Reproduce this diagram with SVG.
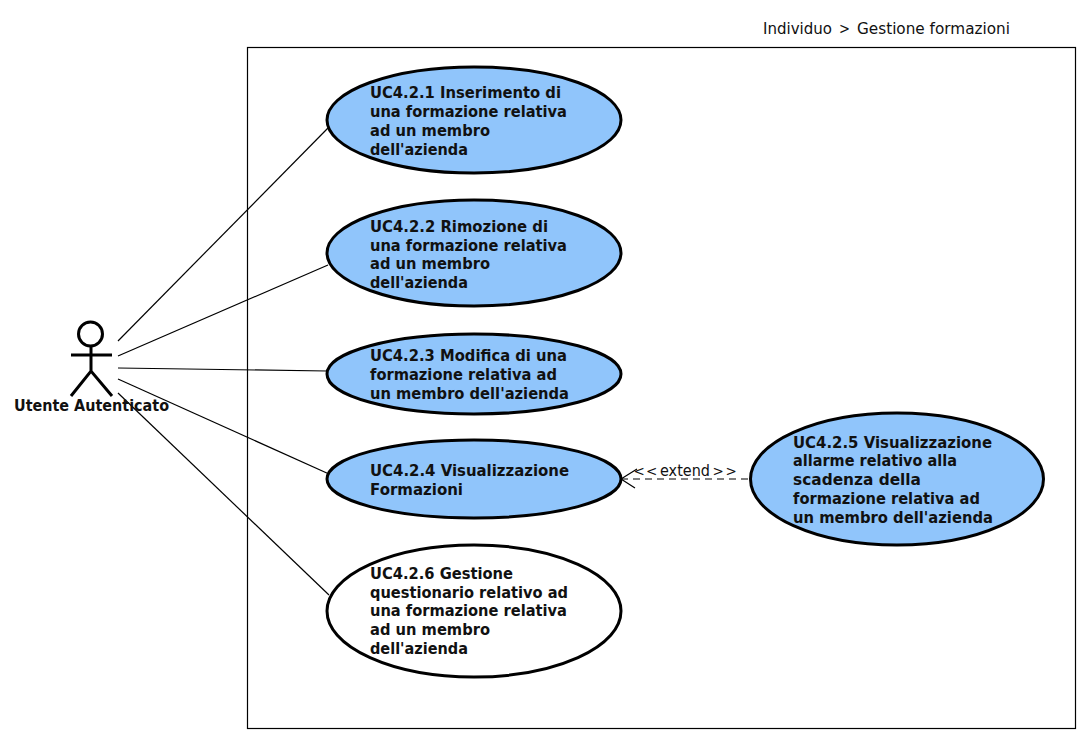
<svg xmlns="http://www.w3.org/2000/svg" width="1089" height="741" viewBox="0 0 1089 741">
<style>
text{font-family:"DejaVu Sans","Liberation Sans",sans-serif;fill:#111}
.t{font-weight:bold;font-size:15.5px}
.r{font-size:15.5px}
.u{fill:#90c5fb;stroke:#000;stroke-width:3}
.w{fill:#fff;stroke:#000;stroke-width:3}
.c{stroke:#000;stroke-width:1.2;fill:none}
.a{stroke:#000;stroke-width:3;fill:none}
.b{font-size:13.500px}
</style>
<rect width="1089" height="741" fill="#fff"/>
<rect id="boundary" x="247.500" y="47.500" width="828" height="681" fill="#fff" stroke="#000" stroke-width="1.200"/>
<text id="title" class="r" y="34"><tspan x="763" textLength="69" lengthAdjust="spacingAndGlyphs">Individuo</tspan> <tspan x="839" textLength="11" lengthAdjust="spacingAndGlyphs">&gt;</tspan> <tspan x="857" textLength="153" lengthAdjust="spacingAndGlyphs">Gestione formazioni</tspan></text>
<g id="connectors">
<line class="c" x1="118" y1="341" x2="328" y2="128"/>
<line class="c" x1="118" y1="356" x2="328" y2="265"/>
<line class="c" x1="118" y1="368" x2="327" y2="371"/>
<line class="c" x1="118" y1="379" x2="329" y2="474"/>
<line class="c" x1="118" y1="393" x2="329" y2="595"/>
<line class="c" x1="621" y1="479" x2="750" y2="479" stroke-dasharray="7 5"/>
<path class="c" d="M637 469 L621 479 L635 488"/>
<text class="r" y="476"><tspan class="b" x="633.500 646" y="475.500">&lt;&lt;</tspan><tspan x="660" y="476" textLength="50" lengthAdjust="spacingAndGlyphs">extend</tspan><tspan class="b" x="712.500 725.500" y="475.500">&gt;&gt;</tspan></text>
</g>
<g id="actor">
<circle class="a" cx="90.500" cy="334" r="12"/>
<path class="a" d="M91 346V371M71 355H112M71 396L91 371L112 396"/>
<text class="t" x="14" y="411" textLength="155" lengthAdjust="spacingAndGlyphs">Utente Autenticato</text>
</g>
<g id="uc421">
<ellipse class="u" cx="474" cy="120" rx="147" ry="53"/>
<text class="t" x="370" y="98" textLength="191" lengthAdjust="spacingAndGlyphs">UC4.2.1 Inserimento di</text>
<text class="t" x="370" y="117" textLength="197" lengthAdjust="spacingAndGlyphs">una formazione relativa</text>
<text class="t" x="370" y="136" textLength="120" lengthAdjust="spacingAndGlyphs">ad un membro</text>
<text class="t" x="370" y="155" textLength="98" lengthAdjust="spacingAndGlyphs">dell'azienda</text>
</g>
<g id="uc422">
<ellipse class="u" cx="474" cy="253" rx="147" ry="53"/>
<text class="t" x="370" y="232" textLength="178" lengthAdjust="spacingAndGlyphs">UC4.2.2 Rimozione di</text>
<text class="t" x="370" y="251" textLength="197" lengthAdjust="spacingAndGlyphs">una formazione relativa</text>
<text class="t" x="370" y="269" textLength="120" lengthAdjust="spacingAndGlyphs">ad un membro</text>
<text class="t" x="370" y="288" textLength="98" lengthAdjust="spacingAndGlyphs">dell'azienda</text>
</g>
<g id="uc423">
<ellipse class="u" cx="474" cy="374" rx="147" ry="40"/>
<text class="t" x="370" y="361" textLength="197" lengthAdjust="spacingAndGlyphs">UC4.2.3 Modifica di una</text>
<text class="t" x="370" y="380" textLength="187" lengthAdjust="spacingAndGlyphs">formazione relativa ad</text>
<text class="t" x="370" y="399" textLength="199" lengthAdjust="spacingAndGlyphs">un membro dell'azienda</text>
</g>
<g id="uc424">
<ellipse class="u" cx="474" cy="479" rx="147" ry="39"/>
<text class="t" x="370" y="476" textLength="199" lengthAdjust="spacingAndGlyphs">UC4.2.4 Visualizzazione</text>
<text class="t" x="370" y="495" textLength="93" lengthAdjust="spacingAndGlyphs">Formazioni</text>
</g>
<g id="uc425">
<ellipse class="u" cx="897" cy="479" rx="146.500" ry="66"/>
<text class="t" x="793" y="448" textLength="199" lengthAdjust="spacingAndGlyphs">UC4.2.5 Visualizzazione</text>
<text class="t" x="793" y="466" textLength="164" lengthAdjust="spacingAndGlyphs">allarme relativo alla</text>
<text class="t" x="793" y="485" textLength="128" lengthAdjust="spacingAndGlyphs">scadenza della</text>
<text class="t" x="793" y="504" textLength="187" lengthAdjust="spacingAndGlyphs">formazione relativa ad</text>
<text class="t" x="793" y="523" textLength="200" lengthAdjust="spacingAndGlyphs">un membro dell'azienda</text>
</g>
<g id="uc426">
<ellipse class="w" cx="474" cy="611" rx="147" ry="66"/>
<text class="t" x="370" y="579" textLength="143" lengthAdjust="spacingAndGlyphs">UC4.2.6 Gestione</text>
<text class="t" x="370" y="598" textLength="198" lengthAdjust="spacingAndGlyphs">questionario relativo ad</text>
<text class="t" x="370" y="616" textLength="197" lengthAdjust="spacingAndGlyphs">una formazione relativa</text>
<text class="t" x="370" y="635" textLength="120" lengthAdjust="spacingAndGlyphs">ad un membro</text>
<text class="t" x="370" y="654" textLength="98" lengthAdjust="spacingAndGlyphs">dell'azienda</text>
</g>
</svg>
